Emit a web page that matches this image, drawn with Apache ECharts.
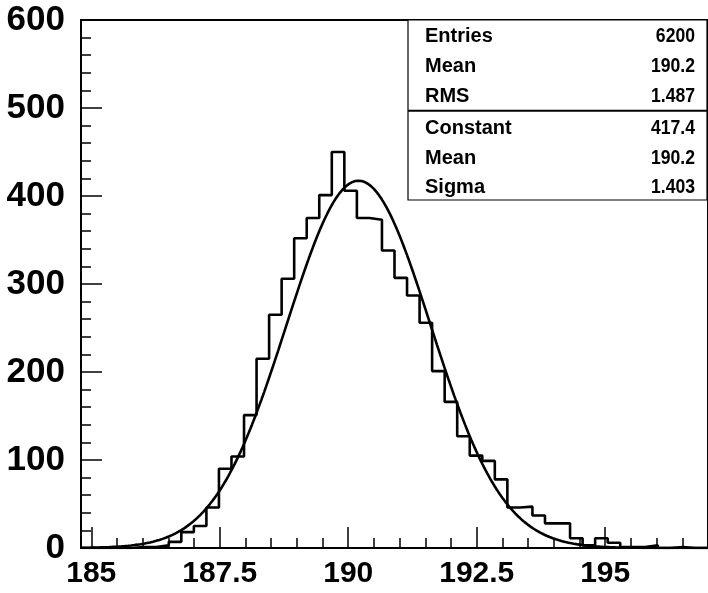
<!DOCTYPE html>
<html><head><meta charset="utf-8">
<script src="https://cdn.jsdelivr.net/npm/echarts@6/dist/echarts.min.js"></script>
<style>html,body{margin:0;padding:0;background:#fff}#c{width:708px;height:593px}</style>
</head><body><div id="c"></div>
<script>
// Histogram definition: 50 bins from 184.8 to 197.0
const binLow = 184.8;
const binHigh = 197.0;
const nBins = 50;
const counts = [0,0,0,0,1,1,3,7,18,25,46,90,104,151,215,265,306,352,375,401,450,406,375,373,338,307,287,256,201,166,127,105,99,78,46,47,37,28,28,11,3,11,6,1,1,3,0,1,0,0];
// Axis ticks
const xMajorTicks = [185, 187.5, 190, 192.5, 195];
const xMinorTicks = [185,185.5,186,186.5,187,187.5,188,188.5,189,189.5,190,190.5,191,191.5,192,192.5,193,193.5,194,194.5,195,195.5,196,196.5];
const yMin = 0, yMax = 600, yStep = 100;
// Stats box
const statLabels = ['Entries','Mean','RMS','Constant','Mean','Sigma'];
const statValues = ['6200','190.2','1.487','417.4','190.2','1.403'];
// Gaussian fit parameters (as shown in stats box)
const fitConstant = 417.4, fitMean = 190.2, fitSigma = 1.403;

const binWidth = (binHigh - binLow) / nBins;
const histData = counts.map((c, k) => [binLow + k * binWidth, c]);
histData.push([binHigh, counts[counts.length - 1]]);

const fitData = [];
const nFit = 400;
for (let i = 0; i <= nFit; i++) {
  const x = binLow + (binHigh - binLow) * i / nFit;
  fitData.push([x, fitConstant * Math.exp(-0.5 * Math.pow((x - fitMean) / fitSigma, 2))]);
}

const FONT = '"Liberation Sans", Arial, Helvetica, sans-serif';
const chart = echarts.init(document.getElementById('c'), null, {renderer: 'canvas'});

const rowY = [36, 66, 96, 128, 158, 187];
const statGraphics = [
  {type: 'rect', shape: {x: 408, y: 20, width: 299, height: 180}, style: {fill: '#fff', stroke: '#000', lineWidth: 1.2}, z: 100},
  {type: 'line', shape: {x1: 408, y1: 110.7, x2: 707, y2: 110.7}, style: {stroke: '#000', lineWidth: 2}, z: 101}
];
statLabels.forEach((lab, i) => {
  statGraphics.push({type: 'text', x: 425, y: rowY[i], z: 102,
    style: {text: lab, font: 'bold 20px ' + FONT, fill: '#000', textAlign: 'left', textVerticalAlign: 'middle'}});
  statGraphics.push({type: 'text', x: 695, y: rowY[i], z: 102, scaleX: 0.88,
    style: {text: statValues[i], font: 'bold 20px ' + FONT, fill: '#000', textAlign: 'right', textVerticalAlign: 'middle'}});
});

chart.setOption({
  animation: false,
  backgroundColor: '#fff',
  grid: {left: 81, right: -2, top: 20, bottom: 45, show: true, borderColor: '#000', borderWidth: 2, backgroundColor: 'transparent'},
  xAxis: [
    {type: 'value', min: binLow, max: binHigh, position: 'bottom',
     axisLine: {show: true, lineStyle: {color: '#000', width: 2}},
     axisTick: {show: true, inside: true, length: 21, customValues: xMajorTicks, lineStyle: {color: '#000', width: 1.5}},
     axisLabel: {show: true, customValues: xMajorTicks, color: '#000', fontWeight: 'bold', fontSize: 30, fontFamily: FONT, margin: 11},
     splitLine: {show: false}},
    {type: 'value', min: binLow, max: binHigh, position: 'bottom',
     axisLine: {show: false},
     axisTick: {show: true, inside: true, length: 10, customValues: xMinorTicks, lineStyle: {color: '#000', width: 1.5}},
     axisLabel: {show: false},
     splitLine: {show: false}}
  ],
  yAxis: {type: 'value', min: yMin, max: yMax, interval: yStep,
    axisLine: {show: true, lineStyle: {color: '#000', width: 2}},
    axisTick: {show: true, inside: true, length: 21, lineStyle: {color: '#000', width: 1.5}},
    minorTick: {show: true, splitNumber: 5, length: 10, lineStyle: {color: '#000', width: 1.5}},
    axisLabel: {color: '#000', fontWeight: 'bold', fontSize: 35, fontFamily: FONT, margin: 16},
    splitLine: {show: false}, minorSplitLine: {show: false}},
  series: [
    {type: 'line', name: 'hist', data: histData, step: 'end', showSymbol: false, xAxisIndex: 0,
     lineStyle: {color: '#000', width: 2.6}, z: 3},
    {type: 'line', name: 'fit', data: fitData, showSymbol: false, smooth: false, xAxisIndex: 0,
     lineStyle: {color: '#000', width: 2.6}, z: 4}
  ],
  graphic: statGraphics
});
</script>
</body></html>
